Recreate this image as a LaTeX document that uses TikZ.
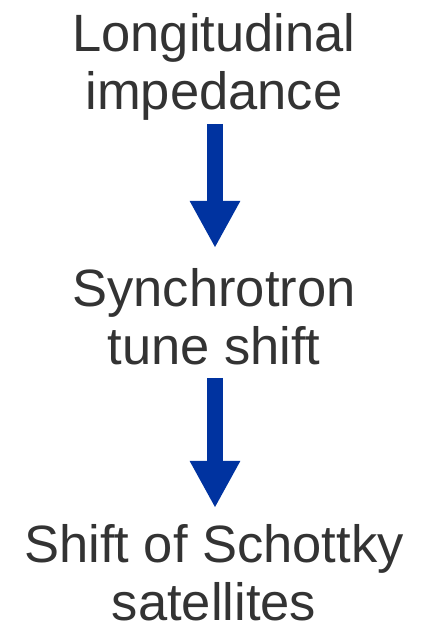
\documentclass[tikz,border=0pt]{standalone}
\usepackage{fontspec}
\setmainfont{Liberation Sans}
\usetikzlibrary{arrows.meta}
\definecolor{txtgray}{HTML}{333333}
\definecolor{arrowblue}{HTML}{0033A0}
\tikzset{
  label box/.style={align=center, inner sep=0pt, text=txtgray, anchor=base,
    font=\fontsize{52.5}{58}\selectfont},
  block arrow/.style={draw=arrowblue, fill=arrowblue, line width=16pt,
    -{Triangle[width=47pt,length=47pt]}}
}
\begin{document}
\begin{tikzpicture}[x=1pt,y=1pt]
\useasboundingbox (0,0) rectangle (428,629);
\node[label box] (t1) at (214,629-110) {Longitudinal\\impedance};
\node[label box] (t2) at (214,629-365) {Synchrotron\\tune shift};
\node[label box] (t3) at (214,629-620) {Shift of Schottky\\satellites};
\coordinate (a1s) at (215,629-124);
\coordinate (a1e) at (215,629-248);
\coordinate (a2s) at (215,629-378);
\coordinate (a2e) at (215,629-508);
\draw[block arrow] (a1s) -- (a1e);
\draw[block arrow] (a2s) -- (a2e);
\end{tikzpicture}
\end{document}
